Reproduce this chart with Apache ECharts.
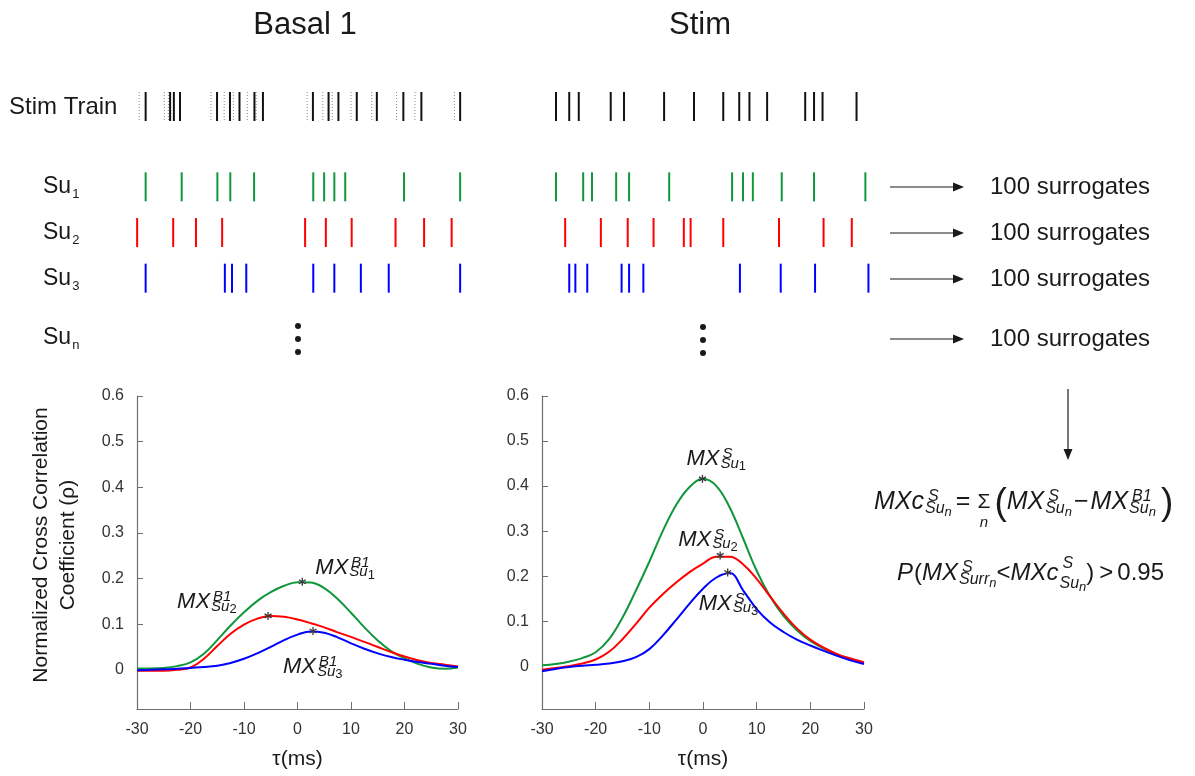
<!DOCTYPE html>
<html>
<head>
<meta charset="utf-8">
<script src="https://cdn.jsdelivr.net/npm/echarts@6/dist/echarts.min.js"></script>
<style>
  html, body { margin: 0; padding: 0; background: #fff; }
  #chart { width: 1195px; height: 776px; }
</style>
</head>
<body>
<div id="chart"></div>
<script>
// ---- cross-correlation curves (lag in ms, normalized coefficient) ----
const lags = [-30, -27.5, -25, -22.5, -20, -17.5, -15, -12.5, -10, -7.5, -5, -2.5, 0,
              2.5, 5, 7.5, 10, 12.5, 15, 17.5, 20, 22.5, 25, 27.5, 30];

const basalSu1 = [0.003, 0.003, 0.004, 0.008, 0.016, 0.035, 0.065, 0.097, 0.126, 0.151, 0.170, 0.184, 0.192,
                  0.191, 0.179, 0.155, 0.125, 0.093, 0.064, 0.041, 0.025, 0.013, 0.005, 0.002, 0.005];
const basalSu2 = [-0.002, -0.002, -0.002, 0.000, 0.005, 0.024, 0.052, 0.079, 0.099, 0.112, 0.118, 0.116, 0.110,
                  0.102, 0.093, 0.082, 0.072, 0.061, 0.050, 0.039, 0.029, 0.021, 0.015, 0.011, 0.007];
const basalSu3 = [-0.001, 0.000, 0.001, 0.002, 0.004, 0.006, 0.009, 0.015, 0.024, 0.036, 0.050, 0.065, 0.077,
                  0.084, 0.081, 0.071, 0.058, 0.046, 0.036, 0.028, 0.022, 0.017, 0.013, 0.009, 0.006];

const stimSu1 = [0.002, 0.005, 0.010, 0.018, 0.031, 0.060, 0.108, 0.168, 0.232, 0.300, 0.358, 0.398, 0.416,
                 0.400, 0.352, 0.283, 0.212, 0.155, 0.112, 0.080, 0.056, 0.039, 0.026, 0.016, 0.007];
const stimSu2 = [-0.008, -0.004, 0.000, 0.006, 0.015, 0.032, 0.060, 0.094, 0.130, 0.160, 0.186, 0.209, 0.228,
                 0.243, 0.243, 0.226, 0.194, 0.155, 0.117, 0.084, 0.059, 0.041, 0.027, 0.017, 0.009];
const stimSu3 = [-0.011, -0.006, -0.002, 0.001, 0.003, 0.006, 0.011, 0.020, 0.038, 0.068, 0.103, 0.139, 0.172,
                 0.197, 0.207, 0.168, 0.127, 0.097, 0.076, 0.059, 0.046, 0.034, 0.023, 0.013, 0.005];

// maxima of each curve (lag, rho)
const basalPeakLag = [0.9, -5.5, 2.9];
const basalPeakRho = [0.193, 0.118, 0.085];
const stimPeakLag = [-0.1, 3.2, 4.6];
const stimPeakRho = [0.416, 0.246, 0.208];

// ---- spike trains (time in ms within a 1 s window) ----
const basalStimTrain = [46, 118, 129, 147, 256, 294, 322, 366, 391, 538, 584, 613, 667, 726, 804, 857, 971];
const basalStimRef = [27, 101, 113, 130, 238, 277, 304, 345, 371, 521, 567, 595, 650, 711, 784, 838, 954];
const basalUnit1 = [46, 152, 257, 295, 365, 539, 571, 601, 633, 806, 971];
const basalUnit2 = [21, 127, 194, 271, 515, 576, 652, 781, 865, 946];
const basalUnit3 = [46, 279, 300, 342, 539, 601, 679, 761, 971];

const stimStimTrain = [47, 86, 114, 208, 247, 365, 453, 539, 586, 616, 668, 780, 806, 831, 931];
const stimUnit1 = [47, 127, 153, 224, 262, 380, 565, 597, 626, 711, 806, 957];
const stimUnit2 = [74, 179, 258, 334, 423, 443, 539, 703, 834, 917];
const stimUnit3 = [86, 104, 139, 240, 262, 304, 588, 708, 809, 966];

const unitNames = ['Su1', 'Su2', 'Su3'];
const unitIndexLabels = ['1', '2', '3'];
const rhoTickValues = [0, 0.1, 0.2, 0.3, 0.4, 0.5, 0.6];
const panelTitles = ['Basal 1', 'Stim'];
const surrogateText = '100 surrogates';

// ---- style ----
const FONT = '"Liberation Sans", Arial, Helvetica, sans-serif';
const GREEN = '#10963c', RED = '#ff0000', BLUE = '#0000ff';
const INK = '#1a1a1a', AXIS = '#6e6e6e';

const measureCtx = document.createElement('canvas').getContext('2d');
function textWidth(text, size, italic) {
  measureCtx.font = (italic ? 'italic ' : '') + size + 'px ' + FONT;
  return measureCtx.measureText(text).width;
}
function txt(text, x, y, size, opt) {
  opt = opt || {};
  return {
    type: 'text', x: x, y: y, silent: true, rotation: opt.rotation || 0,
    style: {
      text: text, fontSize: size, fontFamily: FONT,
      fontStyle: opt.italic ? 'italic' : 'normal',
      fill: opt.color || INK, align: opt.align || 'left', verticalAlign: 'middle',
      lineHeight: opt.lineHeight
    }
  };
}
// "MX" style term with stacked superscript / subscript
function mxTerm(x, mid, base, sup, subMain, subIdx, size, lay) {
  const small = lay.small, idxSize = lay.idx;
  const els = [txt(base, x, mid, size, { italic: true })];
  const w = textWidth(base, size, true);
  const x0 = x + w + 1;
  els.push(txt(sup, x0 + lay.supShift, mid + lay.supDy, small, { italic: true }));
  els.push(txt(subMain, x0, mid + lay.subDy, small, { italic: true }));
  const ws = textWidth(subMain, small, true);
  const idxItalic = subIdx === 'n';
  els.push(txt(subIdx, x0 + ws, mid + lay.idxDy, idxSize, { italic: idxItalic }));
  const wsub = ws + textWidth(subIdx, idxSize, idxItalic);
  const wsup = textWidth(sup, small, true) + lay.supShift;
  return { els: els, width: w + 1 + Math.max(wsub, wsup) };
}
const PLOT_LABEL = { small: 15, idx: 13, supShift: 2, supDy: -5, subDy: 4.5, idxDy: 7.5 };
const FORMULA = { small: 16, idx: 13, supShift: 3, supDy: -5, subDy: 7, idxDy: 10 };

// ---- grids ----
const grids = [
  { left: 130, top: 92, width: 340, height: 29 },    // basal stim train
  { left: 130, top: 164, width: 340, height: 137 },  // basal units
  { left: 540, top: 92, width: 340, height: 29 },    // stim stim train
  { left: 540, top: 164, width: 340, height: 137 },  // stim units
  { left: 137, top: 396, width: 321, height: 313 },  // basal xcorr
  { left: 542, top: 396, width: 322, height: 313 }   // stim xcorr
];

const hiddenX = (g) => ({ gridIndex: g, type: 'value', min: 0, max: 1000, show: false });
const tauAxis = (g) => ({
  gridIndex: g, type: 'value', min: -30, max: 30, interval: 10,
  name: 'τ(ms)', nameLocation: 'middle', nameGap: 40,
  nameTextStyle: { fontSize: 21, color: INK, fontFamily: FONT },
  axisLine: { onZero: false, lineStyle: { color: AXIS, width: 1.2 } },
  axisTick: { inside: true, length: 7, lineStyle: { color: AXIS } },
  axisLabel: { fontSize: 16, color: '#333', fontFamily: FONT, margin: 13 },
  splitLine: { show: false }
});
const rhoAxis = (g, min) => ({
  gridIndex: g, type: 'value', min: min, max: 0.6,
  axisLine: { show: true, onZero: false, lineStyle: { color: AXIS, width: 1.2 } },
  axisTick: { show: true, inside: true, length: 6, lineStyle: { color: AXIS },
              customValues: rhoTickValues.slice(1) },
  axisLabel: { fontSize: 16, color: '#333', fontFamily: FONT, margin: 13,
               customValues: rhoTickValues,
               formatter: (v) => (Math.abs(v) < 1e-9 ? '0' : v.toFixed(1)) },
  splitLine: { show: false }
});

// ---- series builders ----
function spikeSeries(times, xi, yi, row, color, frac, width, dash) {
  return {
    type: 'custom', xAxisIndex: xi, yAxisIndex: yi, silent: true, clip: false,
    data: times.map((t) => [t, row]),
    renderItem: function (params, api) {
      const p = api.coord([api.value(0), api.value(1)]);
      const h = api.size([0, 1])[1] * frac;
      return {
        type: 'line',
        shape: { x1: p[0], y1: p[1] - h / 2, x2: p[0], y2: p[1] + h / 2 },
        style: { stroke: color, lineWidth: width, lineDash: dash || null }
      };
    }
  };
}
function curveSeries(values, idx, color) {
  return {
    type: 'line', xAxisIndex: idx, yAxisIndex: idx, smooth: 0.4, showSymbol: false, silent: true,
    data: lags.map((l, i) => [l, values[i]]),
    lineStyle: { color: color, width: 2 }, itemStyle: { color: color }
  };
}
function peakSeries(idx, peakLag, peakRho, sup, offsets) {
  return {
    type: 'custom', xAxisIndex: idx, yAxisIndex: idx, silent: true, clip: false, z: 5,
    data: peakLag.map((l, i) => [l, peakRho[i], i]),
    renderItem: function (params, api) {
      const p = api.coord([api.value(0), api.value(1)]);
      const k = api.value(2);
      const r = 4;
      const children = [];
      [90, 30, 150].forEach((deg) => {
        const a = deg * Math.PI / 180;
        children.push({ type: 'line',
          shape: { x1: p[0] - r * Math.cos(a), y1: p[1] - r * Math.sin(a),
                   x2: p[0] + r * Math.cos(a), y2: p[1] + r * Math.sin(a) },
          style: { stroke: '#3a3a3a', lineWidth: 1.3 } });
      });
      const o = offsets[k];
      const term = mxTerm(p[0] + o[0], p[1] + o[1], 'MX', sup, 'Su', unitIndexLabels[k], 22, PLOT_LABEL);
      return { type: 'group', children: children.concat(term.els) };
    }
  };
}

// ---- annotation graphics ----
const graphics = [];
// row labels
graphics.push(txt('Stim Train', 9, 107, 24));
unitNames.forEach((n, i) => {
  const y = [187, 233, 279][i];
  graphics.push(txt('Su', 43, y, 23));
  graphics.push(txt(unitIndexLabels[i], 43 + textWidth('Su', 23) + 1, y + 7, 13));
});
graphics.push(txt('Su', 43, 338, 23));
graphics.push(txt('n', 43 + textWidth('Su', 23) + 1, 345, 13));
// vertical ellipsis under each raster
[298, 703].forEach((x, j) => {
  [0, 13, 26].forEach((dy) => {
    graphics.push({ type: 'circle', silent: true, shape: { cx: x, cy: 326 + j + dy, r: 3 }, style: { fill: INK } });
  });
});
// arrows to surrogate sets
function arrow(x1, y1, x2, y2) {
  const ang = Math.atan2(y2 - y1, x2 - x1), L = 11, W = 4.5;
  const bx = x2 - L * Math.cos(ang), by = y2 - L * Math.sin(ang);
  const nx = -Math.sin(ang) * W, ny = Math.cos(ang) * W;
  return [
    { type: 'line', silent: true, shape: { x1: x1, y1: y1, x2: bx, y2: by }, style: { stroke: INK, lineWidth: 1.2 } },
    { type: 'polygon', silent: true, shape: { points: [[x2, y2], [bx + nx, by + ny], [bx - nx, by - ny]] }, style: { fill: INK } }
  ];
}
[187, 233, 279, 339].forEach((y) => {
  arrow(890, y, 964, y).forEach((e) => graphics.push(e));
  graphics.push(txt(surrogateText, 990, y, 24));
});
arrow(1068, 389, 1068, 460).forEach((e) => graphics.push(e));

// y-axis title of the left correlation panel
graphics.push(txt('Normalized Cross Correlation\nCoefficient (ρ)', 55, 545, 21,
  { rotation: Math.PI / 2, align: 'center', lineHeight: 27 }));

// formula: MXc = sum_n (MX^S - MX^B1)
(function () {
  const F = 25, mid = 502;
  let x = 874;
  let t = mxTerm(x, mid, 'MXc', 'S', 'Su', 'n', F, FORMULA);
  t.els.forEach((e) => graphics.push(e));
  x += t.width + 4;
  graphics.push(txt('=', x, mid, F)); x += textWidth('=', F) + 7;
  const ws = textWidth('Σ', 21);
  graphics.push(txt('Σ', x, mid, 21));
  graphics.push(txt('n', x + ws / 2, mid + 21, 15, { italic: true, align: 'center' }));
  x += ws + 4;
  graphics.push(txt('(', x, mid + 2, 37)); x += textWidth('(', 37);
  t = mxTerm(x, mid, 'MX', 'S', 'Su', 'n', F, FORMULA);
  t.els.forEach((e) => graphics.push(e));
  x += t.width + 2;
  graphics.push(txt('−', x, mid, F)); x += textWidth('−', F) + 2;
  t = mxTerm(x, mid, 'MX', 'B1', 'Su', 'n', F, FORMULA);
  t.els.forEach((e) => graphics.push(e));
  x += t.width + 5;
  graphics.push(txt(')', x, mid + 2, 37));
})();

// formula: P(MX^S_Surr < MXc^S_Su) > 0.95
(function () {
  const F = 24, mid = 573;
  let x = 897;
  graphics.push(txt('P', x, mid, F, { italic: true })); x += textWidth('P', F, true) + 1;
  graphics.push(txt('(', x, mid, F)); x += textWidth('(', F);
  let t = mxTerm(x, mid, 'MX', 'S', 'Surr', 'n', F, FORMULA);
  t.els.forEach((e) => graphics.push(e));
  x += t.width;
  graphics.push(txt('<', x, mid, F)); x += textWidth('<', F);
  t = mxTerm(x, mid, 'MXc', 'S', 'Su', 'n', F,
    { small: 16, idx: 13, supShift: 3, supDy: -9, subDy: 11, idxDy: 14 });
  t.els.forEach((e) => graphics.push(e));
  x += t.width;
  graphics.push(txt(')', x, mid, F)); x += textWidth(')', F) + 5;
  graphics.push(txt('>', x, mid, F)); x += textWidth('>', F) + 4;
  graphics.push(txt('0.95', x, mid, F));
})();

const option = {
  backgroundColor: '#fff',
  animation: false,
  textStyle: { fontFamily: FONT },
  title: [
    { text: panelTitles[0], left: 300, top: 5, textAlign: 'center',
      textStyle: { fontSize: 31, fontWeight: 'normal', color: INK, fontFamily: FONT } },
    { text: panelTitles[1], left: 695, top: 5, textAlign: 'center',
      textStyle: { fontSize: 31, fontWeight: 'normal', color: INK, fontFamily: FONT } }
  ],
  grid: grids,
  xAxis: [hiddenX(0), hiddenX(1), hiddenX(2), hiddenX(3), tauAxis(4), tauAxis(5)],
  yAxis: [
    { gridIndex: 0, type: 'category', data: ['Stim Train'], show: false },
    { gridIndex: 1, type: 'category', data: unitNames, inverse: true, show: false },
    { gridIndex: 2, type: 'category', data: ['Stim Train'], show: false },
    { gridIndex: 3, type: 'category', data: unitNames, inverse: true, show: false },
    rhoAxis(4, -0.086),
    rhoAxis(5, -0.095)
  ],
  series: [
    spikeSeries(basalStimRef, 0, 0, 0, '#8a8a8a', 1, 1, [1, 2]),
    spikeSeries(basalStimTrain, 0, 0, 0, '#111', 1, 2),
    spikeSeries(basalUnit1, 1, 1, 0, GREEN, 0.635, 2),
    spikeSeries(basalUnit2, 1, 1, 1, RED, 0.635, 2),
    spikeSeries(basalUnit3, 1, 1, 2, BLUE, 0.635, 2),
    spikeSeries(stimStimTrain, 2, 2, 0, '#111', 1, 2),
    spikeSeries(stimUnit1, 3, 3, 0, GREEN, 0.635, 2),
    spikeSeries(stimUnit2, 3, 3, 1, RED, 0.635, 2),
    spikeSeries(stimUnit3, 3, 3, 2, BLUE, 0.635, 2),
    curveSeries(basalSu1, 4, GREEN),
    curveSeries(basalSu2, 4, RED),
    curveSeries(basalSu3, 4, BLUE),
    curveSeries(stimSu1, 5, GREEN),
    curveSeries(stimSu2, 5, RED),
    curveSeries(stimSu3, 5, BLUE),
    peakSeries(4, basalPeakLag, basalPeakRho, 'B1', [[13, -14], [-91, -14], [-30, 36]]),
    peakSeries(5, stimPeakLag, stimPeakRho, 'S', [[-16, -20], [-42, -16], [-29, 31]])
  ],
  graphic: graphics
};

const chart = echarts.init(document.getElementById('chart'), null, { renderer: 'canvas' });
chart.setOption(option);
</script>
</body>
</html>
